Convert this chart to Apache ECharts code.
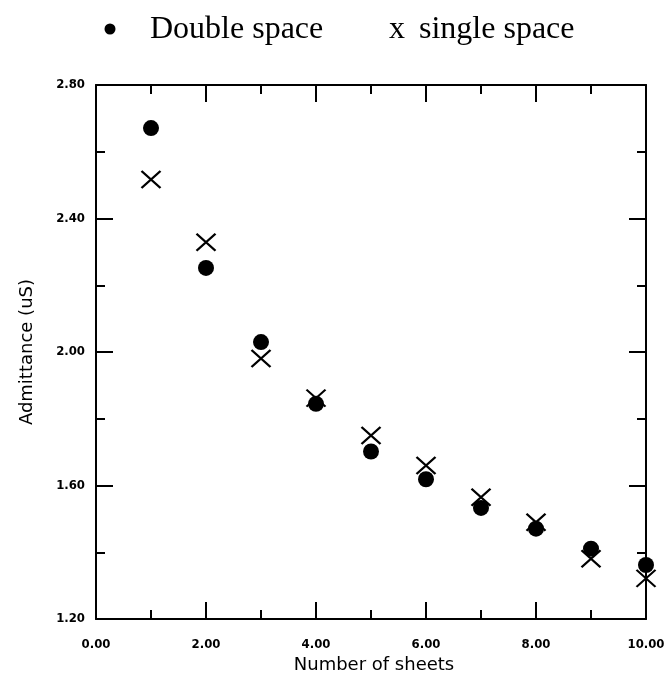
<!DOCTYPE html>
<html>
<head>
<meta charset="utf-8">
<script src="https://cdn.jsdelivr.net/npm/echarts@6/dist/echarts.min.js"></script>
<style>
  html, body { margin: 0; padding: 0; background: #fff; }
  #chart { width: 669px; height: 679px; }
</style>
</head>
<body>
<div id="chart"></div>
<script>
// Admittance measured against the number of stacked sheets
const sheets = [1, 2, 3, 4, 5, 6, 7, 8, 9, 10];
const doubleSpace = [2.671, 2.252, 2.030, 1.845, 1.702, 1.619, 1.533, 1.471, 1.411, 1.362];
const singleSpace = [2.517, 2.329, 1.981, 1.862, 1.750, 1.660, 1.565, 1.490, 1.381, 1.322];

const xTicks = { min: 0, max: 10, interval: 2 };
const yTicks = { min: 1.2, max: 2.8, interval: 0.4 };

const tickFont = 'DejaVu Sans Condensed';
const titleFont = 'DejaVu Sans';
const legendFont = 'Liberation Serif';

const chart = echarts.init(document.getElementById('chart'));

function pairs(xs, ys) {
  return xs.map((x, i) => [x, ys[i]]);
}

const lineStyle = { color: '#000', width: 2 };

function xAxisDef(position, showLabels) {
  return {
    type: 'value',
    position: position,
    min: xTicks.min, max: xTicks.max, interval: xTicks.interval,
    axisLine: { show: true, onZero: false, lineStyle: lineStyle },
    axisTick: { show: true, inside: true, length: 17, lineStyle: lineStyle },
    minorTick: { show: true, splitNumber: 2, length: 9, lineStyle: lineStyle },
    splitLine: { show: false },
    axisLabel: {
      show: showLabels, margin: 19, color: '#000',
      fontFamily: tickFont, fontWeight: 'bold', fontSize: 13,
      formatter: v => v.toFixed(2)
    },
    name: showLabels ? 'Number of sheets' : '',
    nameLocation: 'middle', nameGap: 36,
    nameTextStyle: { color: '#000', fontFamily: titleFont, fontSize: 18, fontWeight: 'normal', padding: [0, 0, 0, 6] }
  };
}

function yAxisDef(position, showLabels) {
  return {
    type: 'value',
    position: position,
    min: yTicks.min, max: yTicks.max, interval: yTicks.interval,
    axisLine: { show: true, onZero: false, lineStyle: lineStyle },
    axisTick: { show: true, inside: true, length: 17, lineStyle: lineStyle },
    minorTick: { show: true, splitNumber: 2, length: 9, lineStyle: lineStyle },
    splitLine: { show: false },
    axisLabel: {
      show: showLabels, margin: 11, color: '#000',
      fontFamily: tickFont, fontWeight: 'bold', fontSize: 13,
      formatter: v => v.toFixed(2)
    },
    name: showLabels ? 'Admittance (uS)' : '',
    nameLocation: 'middle', nameGap: 60, nameRotate: 90,
    nameTextStyle: { color: '#000', fontFamily: titleFont, fontSize: 18, fontWeight: 'normal' }
  };
}

chart.setOption({
  backgroundColor: '#fff',
  animation: false,
  grid: { left: 96, right: 23, top: 85, bottom: 56 },
  xAxis: [xAxisDef('bottom', true), xAxisDef('top', false)],
  yAxis: [yAxisDef('left', true), yAxisDef('right', false)],
  graphic: [
    { type: 'circle', shape: { cx: 110, cy: 29, r: 5.5 }, style: { fill: '#000' } },
    { type: 'text', x: 150, y: 14, style: { text: 'Double space', fontFamily: legendFont, fontSize: 32, fill: '#000', align: 'left', verticalAlign: 'top' } },
    { type: 'text', x: 389, y: 14, style: { text: 'x', fontFamily: legendFont, fontSize: 32, fill: '#000', align: 'left', verticalAlign: 'top' } },
    { type: 'text', x: 419, y: 14, style: { text: 'single space', fontFamily: legendFont, fontSize: 32, fill: '#000', align: 'left', verticalAlign: 'top' } }
  ],
  series: [
    {
      name: 'Double space',
      type: 'scatter',
      xAxisIndex: 0, yAxisIndex: 0,
      symbol: 'circle', symbolSize: 16,
      itemStyle: { color: '#000', opacity: 1 },
      data: pairs(sheets, doubleSpace)
    },
    {
      name: 'single space',
      type: 'scatter',
      xAxisIndex: 0, yAxisIndex: 0,
      symbol: 'path://M0,0L20,18M20,0L0,18', symbolSize: [19, 17],
      itemStyle: { color: 'none', borderColor: '#000', borderWidth: 2.2, opacity: 1 },
      data: pairs(sheets, singleSpace)
    }
  ]
});
</script>
</body>
</html>
